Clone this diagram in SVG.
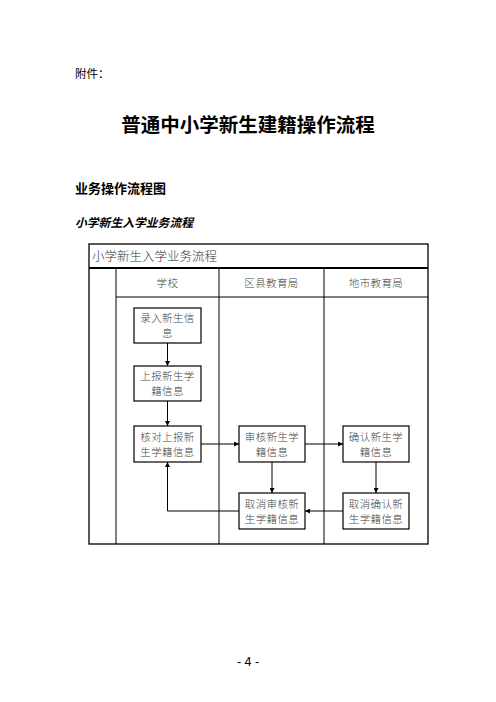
<svg xmlns="http://www.w3.org/2000/svg" width="496" height="702" viewBox="0 0 496 702">
<style>
.doc{font-family:"Liberation Sans","Noto Sans CJK SC",sans-serif;fill:#000}
.lane{fill:none;stroke:#000;stroke-width:1}
.box rect{fill:#fff;stroke:#000;stroke-width:1.2}
.box text,.hd{font-family:"Noto Sans CJK SC",sans-serif;font-size:10.5px;fill:#444;text-anchor:middle;letter-spacing:0.4px;font-weight:300}
.conn path{fill:none;stroke:#000;stroke-width:1}
</style>
<defs>
<marker id="ah" viewBox="0 0 10 10" refX="10" refY="5" markerWidth="5" markerHeight="5" orient="auto" markerUnits="userSpaceOnUse">
<path d="M0,0 L10,5 L0,10 z" fill="#000"/>
</marker>
</defs>
<rect width="496" height="702" fill="#fff"/>
<text class="doc" x="75" y="78" font-size="11.5">附件：</text>
<text class="doc" x="248" y="132" font-size="19.5" font-weight="bold" text-anchor="middle">普通中小学新生建籍操作流程</text>
<text class="doc" x="75" y="193" font-size="13" font-weight="bold">业务操作流程图</text>
<text class="doc" x="75" y="227" font-size="11.8" font-weight="bold" font-style="italic">小学新生入学业务流程</text>

<g id="pool">
<rect x="89" y="244" width="339" height="300" fill="none" stroke="#000" stroke-width="1.3"/>
<line x1="89" y1="268" x2="428" y2="268" stroke="#000" stroke-width="2"/>
<line class="lane" x1="116" y1="268" x2="116" y2="544"/>
<line class="lane" x1="219" y1="268" x2="219" y2="544"/>
<line class="lane" x1="324" y1="268" x2="324" y2="544"/>
<line class="lane" x1="116" y1="297" x2="428" y2="297"/>
<text x="92" y="261" style="font-family:'Noto Sans CJK SC',sans-serif;font-size:12.5px;fill:#333;font-weight:300">小学新生入学业务流程</text>
<text class="hd" x="167.5" y="287">学校</text>
<text class="hd" x="271.5" y="287">区县教育局</text>
<text class="hd" x="376" y="287">地市教育局</text>
</g>

<g id="n1" class="box"><rect x="134" y="308" width="67" height="35"/><text x="167.5" y="322">录入新生信</text><text x="167.5" y="337">息</text></g>
<g id="n2" class="box"><rect x="134" y="366" width="67" height="35"/><text x="167.5" y="380">上报新生学</text><text x="167.5" y="395">籍信息</text></g>
<g id="n3" class="box"><rect x="134" y="426" width="67" height="36"/><text x="167.5" y="441">核对上报新</text><text x="167.5" y="456">生学籍信息</text></g>
<g id="n4" class="box"><rect x="239" y="426" width="66" height="36"/><text x="272" y="441">审核新生学</text><text x="272" y="456">籍信息</text></g>
<g id="n5" class="box"><rect x="343" y="426" width="66" height="36"/><text x="376" y="441">确认新生学</text><text x="376" y="456">籍信息</text></g>
<g id="n6" class="box"><rect x="239" y="493" width="66" height="36"/><text x="272" y="508">取消审核新</text><text x="272" y="523">生学籍信息</text></g>
<g id="n7" class="box"><rect x="343" y="493" width="66" height="36"/><text x="376" y="508">取消确认新</text><text x="376" y="523">生学籍信息</text></g>

<g id="connectors" class="conn">
<path d="M167.5,343 V366" marker-end="url(#ah)"/>
<path d="M167.5,401 V426" marker-end="url(#ah)"/>
<path d="M201,444 H239" marker-end="url(#ah)"/>
<path d="M305,444 H343" marker-end="url(#ah)"/>
<path d="M272,462 V493" marker-end="url(#ah)"/>
<path d="M376,462 V493" marker-end="url(#ah)"/>
<path d="M343,511 H305" marker-end="url(#ah)"/>
<path d="M239,511 H167.5 V462" marker-end="url(#ah)"/>
</g>

<text class="doc" x="248" y="666" font-size="12.5" text-anchor="middle">- 4 -</text>
</svg>
